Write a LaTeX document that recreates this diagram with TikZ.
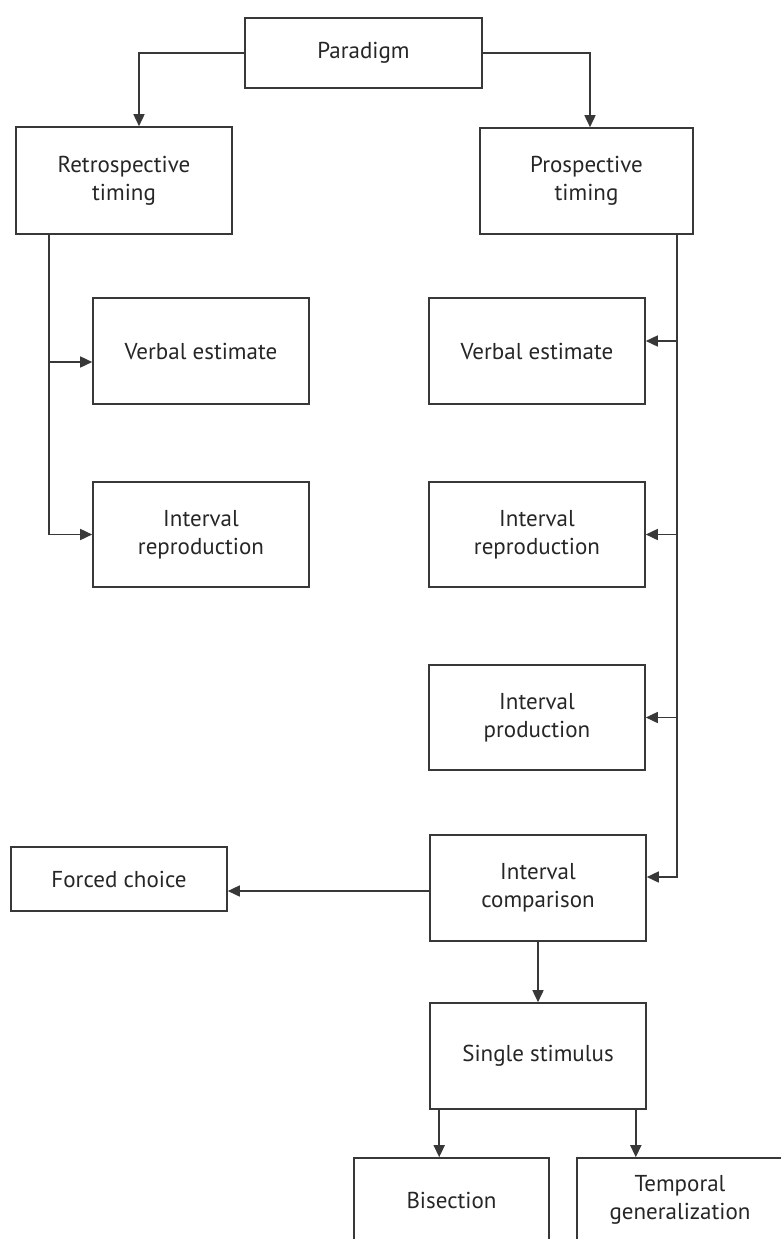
\documentclass[tikz,border=0pt]{standalone}
\usepackage{fontspec}
\setmainfont{PT Sans}
\usetikzlibrary{arrows.meta}
\definecolor{ink}{HTML}{383838}
\definecolor{txt}{HTML}{262626}
\begin{document}
\begin{tikzpicture}[x=1pt,y=-1pt,
  box/.style={draw=ink, line width=1.6pt, align=center, inner sep=0pt,
    text=txt, font=\fontsize{23}{28}\selectfont},
  wbox/.style={box, minimum width=216pt, minimum height=106pt},
  link/.style={draw=ink, line width=1.6pt},
  arr/.style={link, -{Triangle[length=12pt,width=11pt]}}]
\useasboundingbox (0,0) rectangle (781,1239);
\clip (0,0) rectangle (781,1239);

% top level
\node[box, minimum width=237pt, minimum height=70pt] (par) at (363.5,53) {Paradigm};
\node[box, minimum width=216pt, minimum height=107pt] (retro) at (124,180.5) {Retrospective\\timing};
\node[box, minimum width=213pt, minimum height=106pt] (pros) at (586.5,181) {Prospective\\timing};

% retrospective branch
\node[wbox] (lve) at (201,351) {Verbal estimate};
\node[wbox, minimum height=105pt] (lir) at (201,534.5) {Interval\\reproduction};

% prospective branch
\node[wbox] (rve) at (537,351) {Verbal estimate};
\node[wbox, minimum height=105pt] (rir) at (537,534.5) {Interval\\reproduction};
\node[wbox, minimum height=105pt] (rip) at (537,717.5) {Interval\\production};
\node[wbox] (rcmp) at (538,888) {Interval\\comparison};
\node[box, minimum width=216pt, minimum height=64pt] (forced) at (119,879) {Forced choice};
\node[wbox] (single) at (538,1056) {Single stimulus};
\node[box, minimum width=195pt, minimum height=84pt] (bis) at (451.5,1200) {Bisection};
\node[box, minimum width=206pt, minimum height=84pt] (temp) at (680,1200) {Temporal\\generalization};

% connectors from the root
\draw[arr] (par.west) -| ([xshift=15pt]retro.north);
\draw[arr] (par.east) -| ([xshift=3.5pt]pros.north);

% retrospective trunk
\coordinate (lt) at ([xshift=34pt]retro.south west);
\draw[arr] (lt) |- (lir.west);
\coordinate (lb) at (lt |- 0,362);
\draw[arr] (lb) -- (lb -| lve.west);

% prospective trunk
\coordinate (rt) at ([xshift=-17pt]pros.south east);
\draw[arr] (rt) |- ([yshift=11pt]rcmp.east);
\coordinate (rb1) at (rt |- 0,341);
\draw[arr] (rb1) -- (rb1 -| rve.east);
\coordinate (rb2) at (rt |- rir.east);
\draw[arr] (rb2) -- (rir.east);
\coordinate (rb3) at (rt |- rip.east);
\draw[arr] (rb3) -- (rip.east);

% comparison tasks
\draw[arr] ([yshift=-3pt]rcmp.west) -- ([yshift=-3pt]rcmp.west -| forced.east);
\draw[arr] (rcmp.south) -- (single.north);
\draw[arr] ([xshift=10pt]single.south west) -- ([xshift=10pt]single.south west |- bis.north);
\draw[arr] ([xshift=-11pt]single.south east) -- ([xshift=-11pt]single.south east |- temp.north);
\end{tikzpicture}
\end{document}
